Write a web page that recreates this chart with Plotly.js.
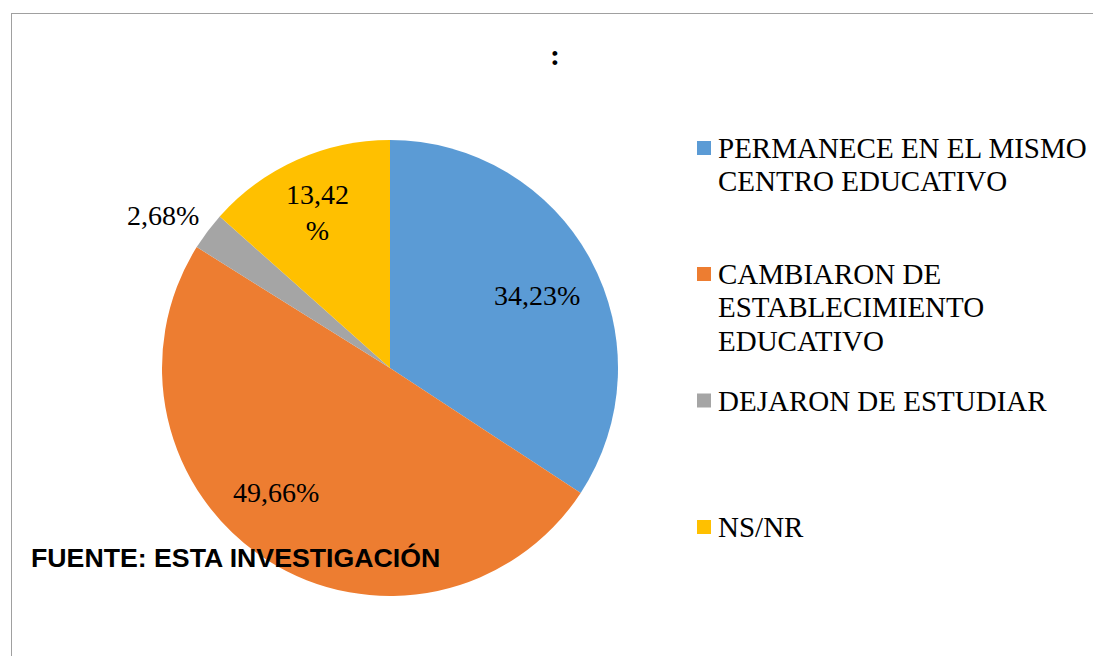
<!DOCTYPE html>
<html>
<head>
<meta charset="utf-8">
<script src="https://cdn.plot.ly/plotly-3.0.1.min.js"></script>
<style>html,body{margin:0;padding:0;background:#fff;}#chart{width:1093px;height:656px;}</style>
</head>
<body>
<div id="chart"></div>
<script>
// ---- data ----
const categories = ['PERMANECE EN EL MISMO<br>CENTRO EDUCATIVO', 'CAMBIARON DE<br>ESTABLECIMIENTO<br>EDUCATIVO', 'DEJARON DE ESTUDIAR', 'NS/NR'];
const values = [34.23, 49.66, 2.68, 13.42];
const valueLabels = ['34,23%', '49,66%', '2,68%', '13,42<br>%'];
const colors = ['#5B9BD5', '#ED7D31', '#A5A5A5', '#FFC000'];
const titleText = ':';
const sourceText = 'FUENTE: ESTA INVESTIGACIÓN';

// ---- layout helpers ----
const W = 1093, H = 656;
const px = x => x / W;
const py = y => 1 - y / H;
const CX = 390, CY = 368, R = 228;   // pie centre / radius in pixels

const trace = {
  type: 'pie',
  values: values,
  labels: categories,
  text: valueLabels,
  textinfo: 'none',
  sort: false,
  direction: 'clockwise',
  rotation: 0,
  marker: { colors: colors, line: { width: 0 } },
  domain: { x: [px(CX - R), px(CX + R)], y: [py(CY + R), py(CY - R)] },
  showlegend: false,
  hoverinfo: 'label+text'
};

const annotations = [];
const shapes = [];

// data labels placed at each slice's angle (derived from the values)
const labelRadius = [0.72, 0.74, 1.2, 0.75];
const labelNudgeDeg = [2, 9.7, -3, -0.8];
const total = values.reduce((a, b) => a + b, 0);
let cum = 0;
values.forEach((v, i) => {
  const mid = (cum + v / 2) / total * 360 + labelNudgeDeg[i];
  cum += v;
  const a = mid * Math.PI / 180;
  const r = R * labelRadius[i];
  annotations.push({
    xref: 'paper', yref: 'paper',
    x: px(CX + r * Math.sin(a)), y: py(CY - r * Math.cos(a)),
    xanchor: 'center', yanchor: 'middle', showarrow: false,
    text: valueLabels[i],
    font: { family: 'Liberation Serif', size: 28, color: '#000' }
  });
});

// legend
const legendY = [148, 274, 400.5, 527];
categories.forEach((cat, i) => {
  cat.split('<br>').forEach((line, j) => {
    annotations.push({
      xref: 'paper', yref: 'paper', x: px(716), y: py(legendY[i] + j * 33.3),
      xanchor: 'left', yanchor: 'middle', showarrow: false, text: line,
      font: { family: 'Liberation Serif', size: 29, color: '#000' }
    });
  });
  shapes.push({
    type: 'rect', xref: 'paper', yref: 'paper',
    x0: px(697), x1: px(711), y0: py(legendY[i] + 7), y1: py(legendY[i] - 7),
    fillcolor: colors[i], line: { width: 0 }
  });
});

annotations.push({
  xref: 'paper', yref: 'paper', x: px(29), y: py(558), xanchor: 'left', yanchor: 'middle',
  showarrow: false, text: '<b>' + sourceText + '</b>',
  font: { family: 'Liberation Sans', size: 26.7, color: '#000' }
});

// chart border
shapes.push({ type: 'line', xref: 'paper', yref: 'paper', x0: px(11.5), x1: px(11.5), y0: py(13), y1: py(700), line: { color: '#A0A0A0', width: 1 } });
shapes.push({ type: 'line', xref: 'paper', yref: 'paper', x0: px(11), x1: px(1120), y0: py(13.5), y1: py(13.5), line: { color: '#A0A0A0', width: 1 } });

const layout = {
  width: W, height: H,
  margin: { l: 0, r: 0, t: 0, b: 0 },
  paper_bgcolor: '#fff',
  title: { text: '<b>' + titleText + '</b>', x: px(555), xanchor: 'center', y: py(54), yanchor: 'middle',
           font: { family: 'Liberation Serif', size: 30, color: '#000' } },
  showlegend: false,
  annotations: annotations,
  shapes: shapes
};

Plotly.newPlot('chart', [trace], layout, { displayModeBar: false, staticPlot: true });
</script>
</body>
</html>
